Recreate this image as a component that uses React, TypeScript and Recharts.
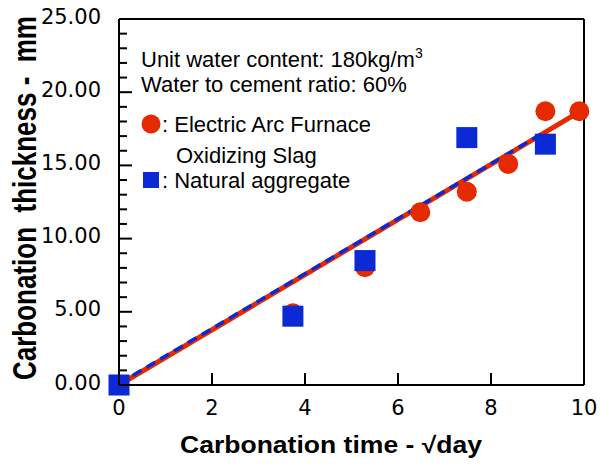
import {
  ComposedChart,
  Line,
  Scatter,
  XAxis,
  YAxis,
  ReferenceLine,
} from 'recharts'

// carbonation time in sqrt(day): 14, 28, 42, 56, 70, 84, 98 days
const eafTime = [0, 3.74, 5.29, 6.48, 7.48, 8.37, 9.17, 9.9]
const eafDepth = [0, 4.9, 8.05, 11.8, 13.2, 15.1, 18.7, 18.7]

const natTime = [0, 3.74, 5.29, 7.48, 9.17]
const natDepth = [0, 4.7, 8.5, 16.9, 16.45]

// fitted lines (end points)
const eafFitTime = [0, 9.9]
const eafFitDepth = [0, 18.65]
const natFitTime = [0, 9.17]
const natFitDepth = [0.1, 17.3]

const xTicks = [0, 2, 4, 6, 8, 10]
const yMajorTicks = [0, 5, 10, 15, 20, 25]
const yTicks = Array.from({ length: 26 }, (_, i) => i)

const RED = '#e52a00'
const BLUE = '#0b2ad6'
const TICK_FONT = 'DejaVu Sans'
const TEXT_FONT = 'Liberation Sans, Arial, sans-serif'

const zip = (xs: number[], ys: number[]) => xs.map((x, i) => ({ x, y: ys[i] }))

const eafData = zip(eafTime, eafDepth)
const natData = zip(natTime, natDepth)
const eafFit = zip(eafFitTime, eafFitDepth)
const natFit = zip(natFitTime, natFitDepth)

// eslint-disable-next-line @typescript-eslint/no-explicit-any
function YTick(props: any) {
  const { x, y, payload } = props
  const major = yMajorTicks.includes(payload.value)
  return (
    <g>
      <line x1={x} x2={x + (major ? 13 : 8)} y1={y} y2={y} stroke="#000" strokeWidth={2} />
      {major && (
        <text x={x - 18} y={y} dy={4.5} textAnchor="end" fontSize={21} fontFamily={TICK_FONT} fill="#000">
          {payload.value.toFixed(2)}
        </text>
      )}
    </g>
  )
}

// eslint-disable-next-line @typescript-eslint/no-explicit-any
function XTick(props: any) {
  const { x, y, payload } = props
  return (
    <g>
      <line x1={x} x2={x} y1={y} y2={y - 12} stroke="#000" strokeWidth={2} />
      <text x={x} y={y + 30} textAnchor="middle" fontSize={21} fontFamily={TICK_FONT} fill="#000">
        {payload.value}
      </text>
    </g>
  )
}

// eslint-disable-next-line @typescript-eslint/no-explicit-any
const circleShape = (p: any) => <circle cx={p.cx} cy={p.cy} r={10} fill={RED} />
// eslint-disable-next-line @typescript-eslint/no-explicit-any
const squareShape = (p: any) => <rect x={p.cx - 10.5} y={p.cy - 10.5} width={21} height={21} fill={BLUE} />

export default function App() {
  return (
    <div style={{ position: 'absolute', left: 0, top: 0, width: 600, height: 465 }}>
      <ComposedChart width={600} height={465} margin={{ top: 19, right: 16, left: 0, bottom: 0 }}>
        <XAxis
          type="number"
          dataKey="x"
          domain={[0, 10]}
          ticks={xTicks}
          interval={0}
          height={80}
          tickSize={0}
          tickMargin={0}
          tickLine={false}
          tick={XTick}
          axisLine={{ stroke: '#000', strokeWidth: 2 }}
        />
        <YAxis
          type="number"
          dataKey="y"
          domain={[0, 25]}
          ticks={yTicks}
          interval={0}
          width={119}
          tickSize={0}
          tickMargin={0}
          tickLine={false}
          tick={YTick}
          axisLine={{ stroke: '#000', strokeWidth: 2 }}
        />
        <ReferenceLine y={25} stroke="#000" strokeWidth={2} />
        <ReferenceLine x={10} stroke="#000" strokeWidth={2} />
        <Line data={eafFit} dataKey="y" stroke={RED} strokeWidth={5} dot={false} isAnimationActive={false} />
        <Line
          data={natFit}
          dataKey="y"
          stroke={BLUE}
          strokeWidth={3.5}
          strokeDasharray="10 6"
          dot={false}
          isAnimationActive={false}
        />
        <Scatter data={eafData} shape={circleShape} isAnimationActive={false} />
        <Scatter data={natData} shape={squareShape} isAnimationActive={false} />
      </ComposedChart>
      <svg
        width={600}
        height={465}
        style={{ position: 'absolute', left: 0, top: 0, pointerEvents: 'none' }}
        fontFamily={TEXT_FONT}
      >
        <text x={141} y={67} fontSize={22} fill="#000">
          Unit water content: 180kg/m
          <tspan dy={-9} fontSize={14}>3</tspan>
        </text>
        <text x={141} y={92} fontSize={22} fill="#000">
          Water to cement ratio: 60%
        </text>
        <circle cx={151} cy={124} r={9.5} fill={RED} />
        <text x={162} y={132} fontSize={22} fill="#000">
          : Electric Arc Furnace
        </text>
        <text x={176} y={163} fontSize={22} fill="#000">
          Oxidizing Slag
        </text>
        <rect x={143} y={172} width={16} height={16} fill={BLUE} />
        <text x={162} y={188} fontSize={22} fill="#000">
          : Natural aggregate
        </text>
        <text
          x={331}
          y={453}
          textAnchor="middle"
          fontSize={23}
          fontWeight="bold"
          fill="#000"
          textLength={302}
          lengthAdjust="spacingAndGlyphs"
        >
          Carbonation time - √day
        </text>
        <text
          x={0}
          y={0}
          transform="translate(36 198) rotate(-90) scale(1 1.25)"
          textAnchor="middle"
          fontSize={26}
          fontWeight="bold"
          fill="#000"
          style={{ whiteSpace: 'pre' }}
        >
          {'Carbonation  thickness -  mm'}
        </text>
      </svg>
    </div>
  )
}
